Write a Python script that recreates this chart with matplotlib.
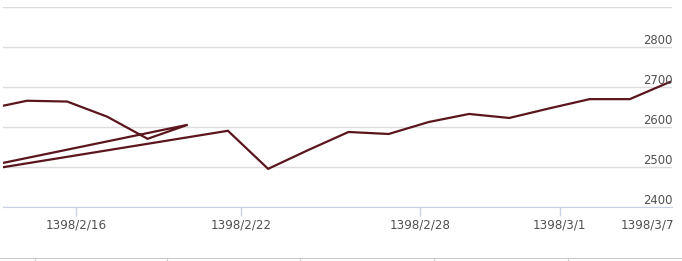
import matplotlib.pyplot as plt
from matplotlib.transforms import blended_transform_factory, offset_copy

# ordinal trading-day position of each point, in the (unsorted) order of the series
day_pos = [0, 1, 2, 3, 4, 5, -2, 6, 7, 8, 9, 10, 11, 12, 13, 14, 15, 16, 17]
price = [2645, 2666, 2664, 2626, 2571, 2606, 2461, 2591, 2496, 2543,
         2588, 2583, 2613, 2633, 2623, 2647, 2670, 2670, 2713]

date_ticks = [2.22, 6.32, 10.78, 14.26, 16.45]
date_labels = ["1398/2/16", "1398/2/22", "1398/2/28", "1398/3/1", "1398/3/7"]
y_ticks = [2400, 2500, 2600, 2700, 2800]
nav_ticks = [35, 167, 300, 434, 568]

LINE = "#5a161c"
LABEL = "#505050"
GRID = "#dcdcdc"
AXIS = "#c8d2e4"


def main() -> None:
    fig = plt.figure(figsize=(6.82, 2.61), dpi=100)
    ax = fig.add_axes([3 / 682, 53.7 / 261, 669 / 682, 200.3 / 261])

    ax.plot(day_pos, price, color=LINE, lw=1.6, solid_joinstyle="miter")
    ax.set_xlim(0.403, 17.05)
    ax.set_ylim(2400, 2900)

    ax.set_yticks([2400, 2500, 2600, 2700, 2800, 2900])
    ax.yaxis.grid(True, color=GRID, lw=1)
    ax.tick_params(axis="y", left=False, labelleft=False)
    for s in ["top", "left", "right"]:
        ax.spines[s].set_visible(False)
    ax.spines["bottom"].set_color(AXIS)
    ax.set_axisbelow(True)

    trans = blended_transform_factory(ax.transAxes, ax.transData)
    trans = offset_copy(trans, fig=fig, x=1, y=3, units="dots")
    for v in y_ticks:
        ax.text(1.0, v, str(v), transform=trans, ha="right", va="baseline",
                fontsize=8.4, color=LABEL)

    ax.set_xticks(date_ticks)
    ax.set_xticklabels(date_labels)
    ax.tick_params(axis="x", length=6.5, width=1, color=AXIS, pad=1.5,
                   labelsize=8.6, labelcolor=LABEL)
    ax.xaxis.get_major_ticks()[-1].tick1line.set_visible(False)

    # navigator axis strip at the bottom
    nav = fig.add_axes([0, 3.5 / 261, 1, 0.0001])
    nav.set_xlim(0, 682)
    nav.set_ylim(0, 1)
    for s in ["top", "left", "right"]:
        nav.spines[s].set_visible(False)
    nav.spines["bottom"].set_color("#cccccc")
    nav.set_xticks(nav_ticks)
    nav.tick_params(axis="x", length=4, color="#cccccc", labelbottom=False)
    nav.tick_params(axis="y", left=False, labelleft=False)
    nav.patch.set_visible(False)

    fig.savefig("out.png", dpi=100)
    plt.close(fig)


if __name__ == "__main__":
    main()
